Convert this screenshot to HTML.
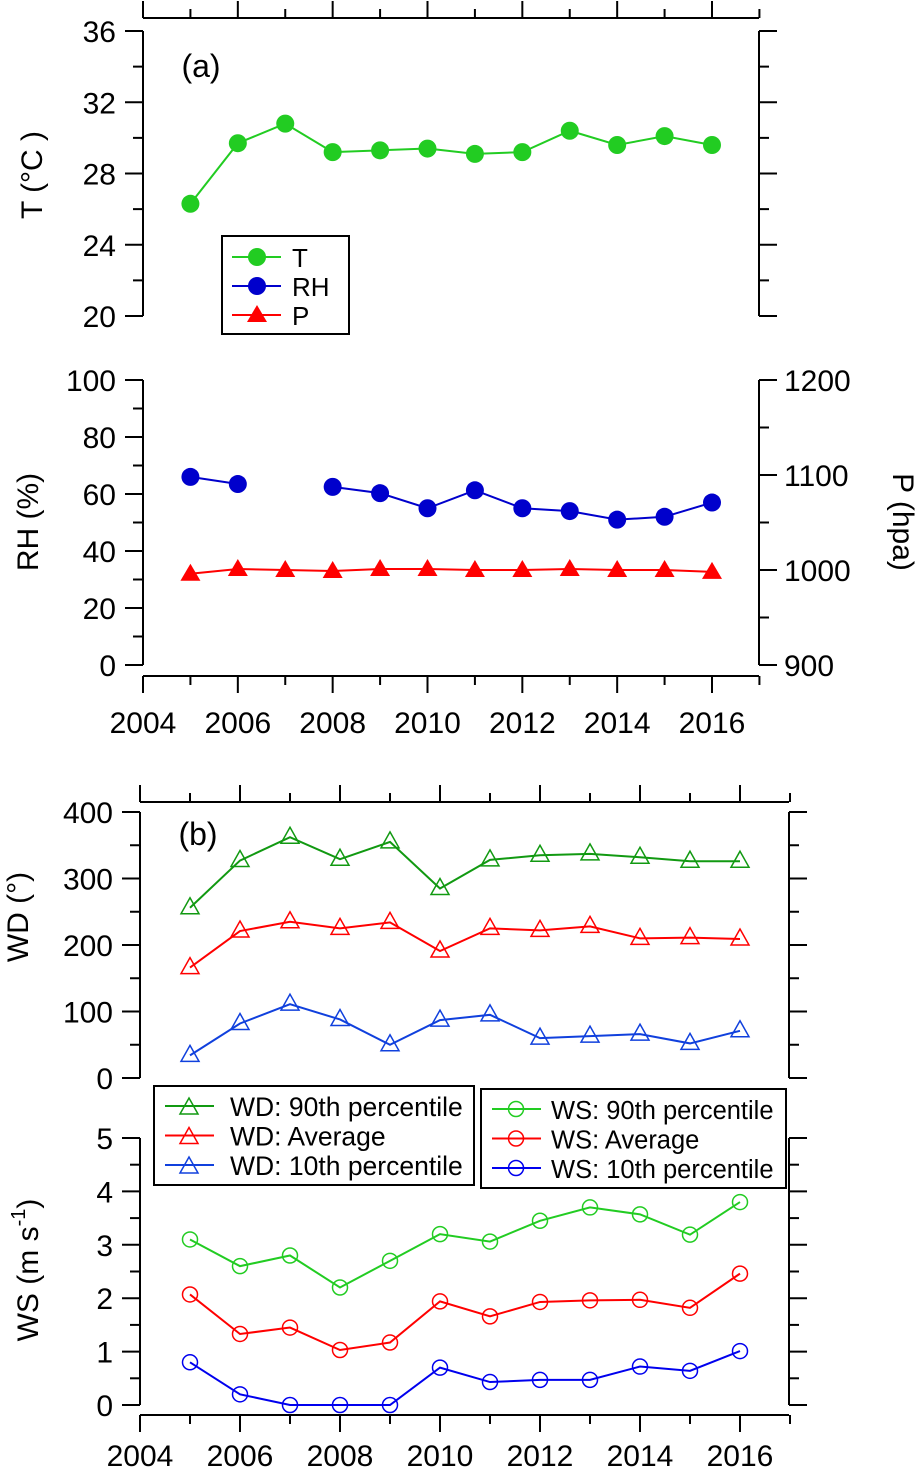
<!DOCTYPE html>
<html><head><meta charset="utf-8"><style>
body{margin:0;background:#fff;width:917px;height:1470px;overflow:hidden}
svg{display:block;font-family:"Liberation Sans",Arial,sans-serif}
</style></head><body>
<svg id="c" width="917" height="1470" xmlns="http://www.w3.org/2000/svg"></svg>
<script>
const years=[2005,2006,2007,2008,2009,2010,2011,2012,2013,2014,2015,2016];
const tVals=[26.3,29.7,30.8,29.2,29.3,29.4,29.1,29.2,30.4,29.6,30.1,29.6];
const rhVals=[66,63.5,null,62.5,60.3,55,61.3,55,54,51,52,57];
const pVals=[996,1001,1000,999,1001,1001,1000,1000,1001,1000,1000,998];
const wd90=[256,327,362,329,355,285,328,335,337,332,326,326];
const wdAvg=[166,221,235,225,234,191,225,222,228,210,211,209];
const wd10=[34,82,111,88,50,87,95,60,63,66,52,71];
const ws90=[3.1,2.6,2.8,2.2,2.7,3.2,3.06,3.45,3.7,3.57,3.19,3.8];
const wsAvg=[2.07,1.33,1.45,1.03,1.17,1.94,1.66,1.93,1.96,1.97,1.82,2.46];
const ws10=[0.8,0.2,0,0,0,0.7,0.43,0.47,0.47,0.72,0.64,1.01];
const xTicks=[2004,2006,2008,2010,2012,2014,2016];

const svg=document.getElementById('c');const NS='http://www.w3.org/2000/svg';
const FS=30;
function el(t,a,p){const e=document.createElementNS(NS,t);for(const k in a)e.setAttribute(k,a[k]);(p||svg).appendChild(e);return e;}
function txt(x,y,s,anchor,size,rot){const e=el('text',{x,y,'font-size':size||FS,'text-anchor':anchor||'middle',fill:'#000'});if(rot)e.setAttribute('transform',`rotate(${rot} ${x} ${y})`);e.textContent=s;return e;}
function lin(d0,d1,p0,p1){return v=>p0+(v-d0)/(d1-d0)*(p1-p0);}

const xa=lin(2004,2016,143,712);
const yT=lin(20,36,316,31), yRH=lin(0,100,665,380), yP=lin(900,1200,665,380);
const xb=lin(2004,2016,140,740);
const yWD=lin(0,400,1078,812), yWS=lin(0,5,1405,1138);

function xAxis(x,x0,x1,y,up,labels,name,off){
  const g=el('g',{});
  el('line',{x1:x0,y1:y,x2:x1,y2:y,stroke:'#000','stroke-width':2},g);
  for(let yr=2004;yr<=2017;yr++){const px=x(yr);if(px>x1+1)break;const L=(yr%2==0)?17:9;
    el('line',{x1:px,y1:y,x2:px,y2:up?y-L:y+L,stroke:'#000','stroke-width':2},g);}
  if(labels)xTicks.forEach(v=>{const t=txt(x(v),y+off,String(v));g.appendChild(t);});
}
function yAxis(y,xp,d0,d1,maj,minr,left,labels,name){
  const g=el('g',{});
  el('line',{x1:xp,y1:y(d0),x2:xp,y2:y(d1),stroke:'#000','stroke-width':2},g);
  for(let v=d0;v<=d1+1e-9;v+=minr){const isM=Math.abs(Math.round(v/maj)*maj-v)<1e-6;const L=isM?18:10;
    el('line',{x1:xp,y1:y(v),x2:left?xp-L:xp+L,y2:y(v),stroke:'#000','stroke-width':2},g);
    if(isM&&labels){const t=txt(left?xp-27:xp+25,y(v)+11,String(Math.round(v*100)/100),left?'end':'start');g.appendChild(t);}}
}
function series(x,y,vals,color,marker,name,sw,r){
  const g=el('g',{});
  let d='';let pen=false;
  vals.forEach((v,i)=>{if(v==null){pen=false;return;}d+=(pen?'L':'M')+x(years[i])+' '+y(v)+' ';pen=true;});
  el('path',{d,fill:'none',stroke:color,'stroke-width':sw||2},g);
  vals.forEach((v,i)=>{if(v==null)return;drawMarker(g,x(years[i]),y(v),color,marker,r);});
}
function drawMarker(g,cx,cy,color,m,r){
  if(m==='dot')el('circle',{cx,cy,r:r||9,fill:color},g);
  else if(m==='tri')el('path',{d:`M${cx} ${cy-10}L${cx+10} ${cy+7}L${cx-10} ${cy+7}Z`,fill:color},g);
  else if(m==='otri')el('path',{d:`M${cx} ${cy-10}L${cx+9} ${cy+6}L${cx-9} ${cy+6}Z`,fill:'none',stroke:color,'stroke-width':1.5},g);
  else if(m==='ocirc')el('circle',{cx,cy,r:7.5,fill:'none',stroke:color,'stroke-width':1.5},g);
}

xAxis(xa,143,759,18,true,false,'top-axis-a');
yAxis(yT,143,20,36,4,2,true,true,'t-axis');
yAxis(yT,759,20,36,4,2,false,false,'t-right-axis');
yAxis(yRH,143,0,100,20,10,true,true,'rh-axis');
yAxis(yP,759,900,1200,100,50,false,true,'p-axis');
xAxis(xa,143,759,676,false,true,'x-axis-a',57);
txt(201,77,'(a)','middle',32);
txt(42,175,'T (°C )','middle',30,-90);
txt(38,522,'RH (%)','middle',30,-90);
txt(893,522,'P (hpa)','middle',30,90);
series(xa,yT,tVals,'#22cc22','dot','t-series');
series(xa,yRH,rhVals,'#0000cc','dot','rh-series');
series(xa,yP,pVals,'#ff0000','tri','p-series');
{const g=el('g',{});
el('rect',{x:222,y:236,width:127,height:98,fill:'#fff',stroke:'#000','stroke-width':2},g);
[['T','#22cc22','dot'],['RH','#0000cc','dot'],['P','#ff0000','tri']].forEach((e,i)=>{const yy=257+i*29;
el('line',{x1:232,y1:yy,x2:281,y2:yy,stroke:e[1],'stroke-width':2},g);drawMarker(g,257,yy,e[1],e[2],9);
const t=txt(292,yy+10,e[0],'start',26);g.appendChild(t);});}

xAxis(xb,140,789,802,true,false,'top-axis-b');
yAxis(yWD,140,0,400,100,50,true,true,'wd-axis');
yAxis(yWD,789,0,400,100,50,false,false,'wd-right-axis');
yAxis(yWS,140,0,5,1,0.5,true,true,'ws-axis');
yAxis(yWS,789,0,5,1,0.5,false,false,'ws-right-axis');
xAxis(xb,140,789,1415,false,true,'x-axis-b',51);
txt(198,845,'(b)','middle',32);
txt(28,917,'WD (°)','middle',30,-90);
{const t=el('text',{x:38,y:1270,'font-size':30,'text-anchor':'middle',transform:'rotate(-90 38 1270)'});
t.innerHTML='WS (m s<tspan dy="-13" font-size="20">-1</tspan><tspan dy="13">)</tspan>';}
series(xb,yWD,wd90,'#119911','otri','wd-90th');
series(xb,yWD,wdAvg,'#ff0000','otri','wd-average');
series(xb,yWD,wd10,'#1040dd','otri','wd-10th');
series(xb,yWS,ws90,'#22cc22','ocirc','ws-90th');
series(xb,yWS,wsAvg,'#ff0000','ocirc','ws-average');
series(xb,yWS,ws10,'#0000ee','ocirc','ws-10th');
function legend(x,y,w,h,items,m,name,tx,fs){const g=el('g',{});
el('rect',{x,y,width:w,height:h,fill:'#fff',stroke:'#000','stroke-width':2},g);
items.forEach((e,i)=>{const yy=y+20+i*29.5;el('line',{x1:x+11,y1:yy,x2:x+60,y2:yy,stroke:e[1],'stroke-width':2},g);drawMarker(g,x+35,yy+(m==='otri'?2:0),e[1],m);
g.appendChild(txt(x+tx,yy+10,e[0],'start',fs));});}
legend(154,1086,320,99,[['WD: 90th percentile','#119911'],['WD: Average','#ff0000'],['WD: 10th percentile','#1040dd']],'otri','legend-wd',76,26.5);
legend(481,1089,305,99,[['WS: 90th percentile','#22cc22'],['WS: Average','#ff0000'],['WS: 10th percentile','#0000ee']],'ocirc','legend-ws',70,25.5);
</script>
</body></html>
